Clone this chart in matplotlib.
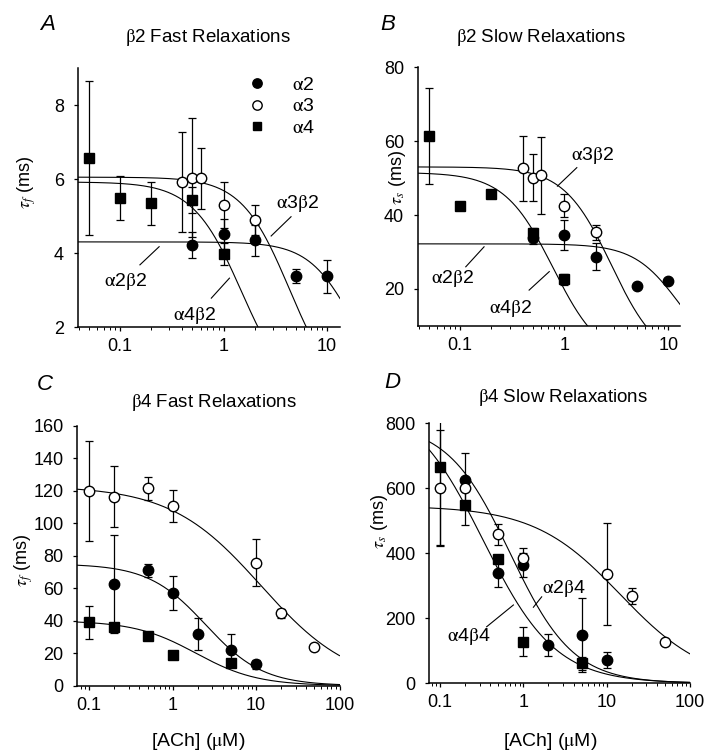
import numpy as np
import matplotlib
matplotlib.use("Agg")
import matplotlib.pyplot as plt
from matplotlib.ticker import FixedLocator, LogLocator, NullFormatter, FuncFormatter

plt.rcParams['font.family'] = ['Liberation Sans', 'DejaVu Sans']
plt.rcParams['mathtext.fontset'] = 'stix'
plt.rcParams['font.size'] = 13

# ---------------- datos ----------------
# Panel A: beta2, relajaciones rapidas (tau_f, ms)
a_x_a2 = [0.5, 1, 2, 5, 10]
a_y_a2 = [4.22, 4.51, 4.34, 3.38, 3.37]
a_e_a2 = [0.36, 0.40, 0.42, 0.20, 0.45]
a_x_a3 = [0.4, 0.5, 0.6, 1, 2]
a_y_a3 = [5.92, 6.04, 6.02, 5.30, 4.89]
a_e_a3 = [1.36, 1.60, 0.82, 0.63, 0.40]
a_x_a4 = [0.05, 0.1, 0.2, 0.5, 1]
a_y_a4 = [6.57, 5.48, 5.34, 5.43, 3.97]
a_e_a4 = [2.07, 0.60, 0.58, 0.35, 0.30]

# Panel B: beta2, relajaciones lentas (tau_s, ms)
b_x_a2 = [0.5, 1, 2, 5, 10]
b_y_a2 = [33.7, 34.6, 28.7, 20.9, 22.2]
b_e_a2 = [1.5, 4.0, 3.6, 0, 0]
b_x_a3 = [0.4, 0.5, 0.6, 1, 2]
b_y_a3 = [52.6, 50.1, 50.8, 42.5, 35.3]
b_e_a3 = [8.7, 6.3, 10.4, 3.1, 2.0]
b_x_a4 = [0.05, 0.1, 0.2, 0.5, 1]
b_y_a4 = [61.3, 42.4, 45.6, 35.0, 22.6]
b_e_a4 = [12.9, 0, 0, 1.5, 1.5]

# Panel C: beta4, relajaciones rapidas
c_x_a2 = [0.2, 0.5, 1, 2, 5, 10]
c_y_a2 = [62.6, 71.2, 57.2, 31.6, 21.9, 13.1]
c_e_a2 = [30.0, 4.0, 10.4, 9.8, 9.9, 3.0]
c_x_a3 = [0.1, 0.2, 0.5, 1, 10, 20, 50]
c_y_a3 = [120.0, 116.3, 121.5, 110.6, 75.7, 44.5, 23.6]
c_e_a3 = [30.7, 18.7, 7.2, 10.0, 14.4, 3.0, 0]
c_x_a4 = [0.1, 0.2, 0.5, 1, 5]
c_y_a4 = [39.0, 35.9, 30.8, 19.0, 13.7]
c_e_a4 = [10.0, 0, 0, 2.0, 0]

# Panel D: beta4, relajaciones lentas
d_x_a2 = [0.2, 0.5, 1, 2, 5, 10]
d_y_a2 = [625, 340, 364, 118, 149, 72]
d_e_a2 = [85, 43, 36, 33, 115, 24]
d_x_a3 = [0.1, 0.2, 0.5, 1, 10, 20, 50]
d_y_a3 = [600, 600, 458, 385, 336, 269, 128]
d_e_a3 = [178, 0, 32, 30, 157, 25, 0]
d_x_a4 = [0.1, 0.2, 0.5, 1, 5]
d_y_a4 = [666, 548, 381, 128, 62]
d_e_a4 = [240, 60, 0, 45, 20]

# ajustes (tau0, K, n) de cada subtipo
fit_a = [(4.3, 17.9, 2.0), (6.05, 4.32, 1.88), (5.92, 1.49, 1.84)]
fit_b = [(32.2, 12.7, 2.0), (53.0, 2.83, 1.91), (51.5, 0.78, 1.86)]
fit_c = [(75.0, 2.49, 1.26), (123.0, 11.5, 0.80), (40.0, 1.90, 1.18)]
fit_d = [(800.0, 0.696, 1.15), (546.0, 14.6, 0.84), (880.0, 0.33, 1.0)]


def hill(x, t0, k, n):
    return t0 / (1 + (x / k) ** n)


def px(x):
    return x / 707


def py(y):
    return 1 - y / 754


fig = plt.figure(figsize=(7.07, 7.54), dpi=100)

ax_a = fig.add_axes([px(78), py(327), px(262), 259 / 754])
ax_b = fig.add_axes([px(418), py(326), px(262), 259 / 754])
ax_c = fig.add_axes([px(77.3), py(685.7), px(262.2), 260 / 754])
ax_d = fig.add_axes([px(429.3), py(683.3), px(260.7), 260 / 754])

estilos = [("o", "k", 7.5), ("o", "white", 7.5), ("s", "k", 6.8)]


def panel(ax, datos, ajustes, xlim, ylim, yticks, xticks):
    ax.set_xscale("log")
    xs = np.logspace(np.log10(xlim[0]), np.log10(xlim[1]), 400)
    for t0, k, n in ajustes:
        ax.plot(xs, hill(xs, t0, k, n), color="k", lw=0.8, zorder=1)
    lineas = []
    for (x, y, e), (m, fc, ms) in zip(datos, estilos):
        ax.errorbar(x, y, yerr=e, fmt="none", ecolor="k", elinewidth=0.9,
                    capsize=3, capthick=0.9, zorder=2)
        ln, = ax.plot(x, y, m, mfc=fc, mec="k", mew=1.0, ms=ms, ls="none", zorder=3)
        lineas.append(ln)
    ax.set_xlim(xlim)
    ax.set_ylim(ylim)
    ax.set_yticks(yticks)
    ax.xaxis.set_major_locator(FixedLocator(xticks))
    ax.xaxis.set_major_formatter(FuncFormatter(lambda v, p: f"{v:g}"))
    ax.xaxis.set_minor_locator(LogLocator(subs=range(2, 10)))
    ax.xaxis.set_minor_formatter(NullFormatter())
    ax.spines["top"].set_visible(False)
    ax.spines["right"].set_visible(False)
    for s in ("left", "bottom"):
        ax.spines[s].set_linewidth(1.1)
    ax.tick_params(which="major", direction="out", length=3, width=0.9, labelsize=13)
    ax.tick_params(which="minor", direction="out", length=1.8, width=0.7)
    ax.tick_params(axis="y", pad=7)
    ax.tick_params(axis="x", pad=5)
    return lineas


lin = panel(ax_a, [(a_x_a2, a_y_a2, a_e_a2), (a_x_a3, a_y_a3, a_e_a3), (a_x_a4, a_y_a4, a_e_a4)],
            fit_a, (0.0394, 13.3), (2, 9), [2, 4, 6, 8], [0.1, 1, 10])
panel(ax_b, [(b_x_a2, b_y_a2, b_e_a2), (b_x_a3, b_y_a3, b_e_a3), (b_x_a4, b_y_a4, b_e_a4)],
      fit_b, (0.0395, 12.9), (10, 80), [20, 40, 60, 80], [0.1, 1, 10])
panel(ax_c, [(c_x_a2, c_y_a2, c_e_a2), (c_x_a3, c_y_a3, c_e_a3), (c_x_a4, c_y_a4, c_e_a4)],
      fit_c, (0.072, 100), (0, 160), list(range(0, 161, 20)), [0.1, 1, 10, 100])
panel(ax_d, [(d_x_a2, d_y_a2, d_e_a2), (d_x_a3, d_y_a3, d_e_a3), (d_x_a4, d_y_a4, d_e_a4)],
      fit_d, (0.0744, 100), (0, 800), [0, 200, 400, 600, 800], [0.1, 1, 10, 100])

a = r"$\mathrm{\alpha}$"
b = r"$\mathrm{\beta}$"

ax_a.legend(lin, [a + "2", a + "3", a + "4"], loc="upper left",
            bbox_to_anchor=(0.648, 0.968), frameon=False, handlelength=1,
            handletextpad=1.3, labelspacing=0.2, borderpad=0, borderaxespad=0,
            markerscale=0.9, fontsize=14)

# etiquetas de curvas con su linea indicadora
etiquetas = [
    (ax_a, a + "2" + b + "2", (0.112, 3.22), (0.156, 3.68), (0.239, 4.17)),
    (ax_a, a + "4" + b + "2", (0.526, 2.32), (0.762, 2.78), (1.14, 3.32)),
    (ax_a, a + "3" + b + "2", (5.15, 5.34), (4.48, 4.98), (2.88, 4.46)),
    (ax_b, a + "2" + b + "2", (0.0844, 22.9), (0.1135, 26.0), (0.170, 31.4)),
    (ax_b, a + "4" + b + "2", (0.307, 14.8), (0.46, 19.7), (0.718, 24.7)),
    (ax_b, a + "3" + b + "2", (1.87, 56.2), (1.32, 52.8), (0.86, 47.8)),
    (ax_d, a + "2" + b + "4", (3.02, 292), (1.66, 266), (1.32, 234)),
    (ax_d, a + "4" + b + "4", (0.219, 143), (0.363, 174), (0.76, 241)),
]
for ax, txt, pos, p0, p1 in etiquetas:
    ax.text(pos[0], pos[1], txt, ha="center", va="center", fontsize=14, zorder=4)
    ax.plot([p0[0], p1[0]], [p0[1], p1[1]], color="k", lw=0.8, zorder=4)

# titulos, letras y ejes
fig.text(px(208), py(38), b + "2 Fast Relaxations", ha="center", va="center", fontsize=13.5)
fig.text(px(541), py(37), b + "2 Slow Relaxations", ha="center", va="center", fontsize=13.5)
fig.text(px(214), py(403), b + "4 Fast Relaxations", ha="center", va="center", fontsize=13.5)
fig.text(px(563), py(398), b + "4 Slow Relaxations", ha="center", va="center", fontsize=13.5)

for letra, x, y in [("A", 48, 25), ("B", 388, 25), ("C", 45, 385), ("D", 392, 383)]:
    fig.text(px(x), py(y), letra, ha="center", va="center", fontsize=16, style="italic")

fig.text(px(27), py(182), r"$\tau_f$ (ms)", rotation=90, ha="center", va="center", fontsize=13)
fig.text(px(398), py(178), r"$\tau_s$ (ms)", rotation=90, ha="center", va="center", fontsize=13)
fig.text(px(24), py(560), r"$\tau_f$ (ms)", rotation=90, ha="center", va="center", fontsize=13)
fig.text(px(380), py(522), r"$\tau_s$ (ms)", rotation=90, ha="center", va="center", fontsize=13)

fig.text(px(198), py(742), r"[ACh] ($\mathrm{\mu}$M)", ha="center", va="center", fontsize=14)
fig.text(px(550), py(742), r"[ACh] ($\mathrm{\mu}$M)", ha="center", va="center", fontsize=14)

fig.savefig("out.png", dpi=100)
